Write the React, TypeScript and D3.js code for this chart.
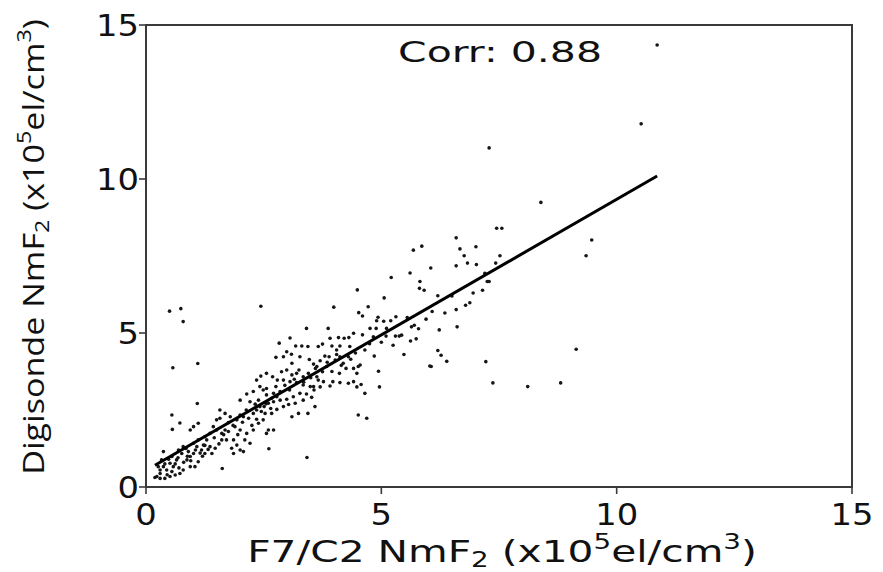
import React, { useLayoutEffect, useRef } from 'react';
import * as d3 from 'd3';

const xTicks = [0, 5, 10, 15];
const yTicks = [0, 5, 10, 15];
const corrText = 'Corr: 0.88';
const fitSlope = 0.88;
const fitIntercept = 0.54;
const fitRange = [0.19, 10.86];

const outlierPoints: [number, number][] = [
  [0.5, 5.71], [0.74, 5.79], [0.79, 5.37], [0.57, 3.87], [1.1, 4.01], [2.44, 5.87],
  [1.09, 2.71], [0.55, 2.34], [0.72, 2.08], [0.56, 1.87], [1.62, 0.6], [3.42, 0.96],
  [2.61, 1.24], [10.86, 14.35], [10.52, 11.79], [7.29, 11.01],
];

const upperPoints: [number, number][] = [
  [5.21, 6.8], [5.06, 6.14], [4.49, 6.4], [3.99, 5.84], [4.72, 5.85], [4.52, 5.66],
  [4.6, 5.55], [4.93, 5.51], [4.9, 5.4], [5.31, 5.53], [5.05, 5.38], [5.11, 5.15],
  [5.38, 4.9], [5.3, 4.9], [4.94, 3.76], [4.96, 3.25], [4.57, 3.33], [4.48, 3.25],
  [4.65, 3.04], [4.51, 2.34], [4.69, 2.23], [3.41, 5.15], [3.87, 5.15], [3.06, 4.84],
  [2.83, 4.67], [3.31, 4.58], [3.18, 4.58], [2.99, 4.39], [3.09, 4.31], [3.44, 4.56],
  [3.66, 4.56], [3.75, 4.64], [3.91, 4.83], [4.09, 4.85], [4.21, 4.83], [4.31, 4.85],
  [4.41, 4.99], [4.6, 4.94], [4.76, 5.15], [4.83, 4.88], [4.89, 5.15],
];

const rightPoints: [number, number][] = [
  [8.39, 9.24], [7.45, 8.4], [7.56, 8.4], [9.47, 8.02], [9.35, 7.51], [6.59, 8.09],
  [5.86, 7.82], [5.68, 7.69], [6.67, 7.73], [7.01, 7.8], [6.76, 7.51], [7.52, 7.51],
  [6.05, 7.11], [6.59, 7.18], [6.83, 7.27], [7.02, 7.22], [7.43, 7.27], [5.61, 6.95],
  [7.2, 6.94], [5.82, 6.67], [5.81, 6.45], [5.91, 6.39], [7.25, 6.67], [7.29, 6.67],
  [7.15, 6.39], [6.2, 6.21], [6.08, 5.7], [6.59, 5.76], [6.79, 5.9], [6.88, 5.98],
  [5.64, 5.2], [5.79, 5.14], [6.61, 5.2], [6.23, 5.1], [5.43, 4.93], [5.62, 4.74],
  [5.74, 4.81], [5.48, 4.3], [6.2, 4.43], [6.27, 4.28], [6.39, 4.08], [6.03, 3.93],
  [6.06, 3.91], [7.22, 4.07], [7.37, 3.38], [8.11, 3.26], [8.81, 3.38], [9.14, 4.47],
];

const midPoints: [number, number][] = [
  [2.76, 4.21], [2.92, 4.23], [3.1, 4.02], [3.27, 4.23], [3.47, 4.14], [3.56, 3.99],
  [3.7, 4.1], [3.8, 4.25], [3.89, 4.23], [4.02, 4.12], [4.12, 4.23], [4.3, 4.23],
  [4.25, 3.85], [4.11, 3.69], [3.97, 3.42], [3.91, 3.28], [3.77, 3.42], [3.63, 3.58],
  [3.45, 3.69], [3.34, 3.58], [3.2, 3.69], [3.1, 3.64], [2.99, 3.8], [2.88, 3.74],
  [2.79, 3.47], [2.92, 3.47], [3.06, 3.42], [3.2, 3.39], [3.34, 3.31], [3.49, 3.26],
  [3.57, 3.15], [3.41, 3.02], [3.27, 3.04], [3.13, 2.93], [2.99, 2.85], [2.85, 2.82],
  [2.71, 2.77], [2.56, 2.99], [2.49, 3.15], [2.42, 3.26], [2.35, 3.47], [2.44, 3.6],
  [2.56, 3.69], [2.69, 3.58], [2.76, 3.26], [2.6, 2.72], [2.51, 2.61], [2.67, 2.39],
  [2.78, 2.52], [2.92, 2.61], [3.03, 2.68], [3.17, 2.72], [3.34, 2.82], [3.52, 2.91],
  [3.59, 2.61], [3.44, 2.39], [3.24, 2.39], [3.1, 2.28], [3.56, 3.26], [3.66, 3.47],
  [4.12, 3.39], [4.3, 3.37], [4.41, 3.42], [4.19, 4.02], [4.41, 3.85], [4.48, 3.69],
  [4.51, 3.91], [4.55, 3.96], [4.33, 4.56], [4.05, 4.45], [3.95, 4.58], [4.12, 4.58],
  [3.84, 3.91], [3.75, 3.74], [3.63, 3.91],
];

const lowPoints: [number, number][] = [
  [2.14, 3.02], [2.0, 2.82], [2.21, 2.77], [2.32, 2.69], [2.42, 2.61], [2.28, 2.39],
  [2.13, 2.5], [2.0, 2.34], [1.93, 2.18], [1.79, 2.28], [1.68, 2.39], [1.57, 2.5],
  [1.75, 2.09], [1.89, 1.96], [2.0, 1.85], [2.14, 1.74], [2.28, 1.85], [2.39, 2.07],
  [2.49, 2.18], [2.6, 1.85], [2.71, 1.85], [2.56, 1.74], [2.21, 1.42], [2.0, 1.2],
  [1.86, 1.09], [2.07, 1.15], [1.71, 1.53], [1.61, 1.74], [1.5, 1.85], [1.43, 1.96],
  [1.36, 1.74], [1.29, 1.53], [1.22, 1.36], [1.18, 1.2], [1.08, 1.31], [1.01, 1.09],
  [0.94, 0.99], [0.87, 0.88], [0.76, 1.09], [0.65, 0.88], [0.58, 0.66], [0.51, 0.77],
  [0.44, 0.55], [0.37, 0.66], [0.3, 0.44], [0.23, 0.34], [0.26, 0.66], [0.33, 0.88],
  [0.55, 0.99], [0.69, 1.2], [0.79, 1.31], [0.9, 1.15], [1.01, 1.42], [1.11, 1.53],
  [1.25, 1.63], [1.36, 1.31], [1.47, 1.26], [1.4, 1.09], [1.25, 1.09], [1.11, 0.82],
  [1.04, 0.66], [0.94, 0.66], [0.79, 0.55], [0.72, 0.44], [0.62, 0.39], [0.51, 0.34],
  [0.4, 0.28], [0.3, 0.28], [0.19, 0.31], [0.37, 1.15], [0.94, 1.85], [1.01, 1.96],
  [1.11, 2.07], [1.5, 2.18], [1.57, 2.23], [1.68, 1.85], [1.61, 1.53], [1.86, 1.53],
  [1.82, 1.26], [1.93, 1.36], [2.1, 1.53], [2.07, 2.28], [2.18, 2.23], [2.35, 2.5],
  [2.53, 2.39], [2.67, 2.88], [2.78, 2.93], [2.39, 2.82], [2.28, 3.1], [2.56, 3.2],
  [2.71, 3.04],
];

const densePoints: [number, number][] = [
  [0.3, 0.55], [0.45, 0.4], [0.55, 0.5], [0.62, 0.75], [0.7, 0.62], [0.8, 0.8],
  [0.88, 1.0], [0.95, 0.85], [1.05, 1.2], [1.15, 1.1], [1.25, 1.35], [1.32, 1.22],
  [0.48, 0.9], [0.4, 0.75], [0.68, 0.95], [0.85, 1.25], [1.2, 1.0], [1.45, 1.6],
  [1.55, 1.4], [1.65, 1.7], [1.75, 1.8], [1.85, 2.0], [1.95, 1.7], [2.05, 2.1],
  [2.25, 2.0], [2.35, 2.2], [2.45, 2.45], [2.55, 2.7], [2.65, 2.55], [2.85, 3.1],
  [2.95, 3.3], [3.05, 3.15], [3.15, 3.5], [3.25, 3.8], [3.35, 3.4], [3.5, 3.55],
  [3.6, 3.85], [3.7, 3.25], [3.85, 4.05], [3.95, 3.75], [4.05, 4.3], [4.15, 3.95],
  [4.35, 4.15], [4.45, 4.35], [4.65, 4.45], [4.75, 4.65], [4.85, 4.25], [5.0, 4.7],
  [5.1, 4.9], [5.2, 5.4], [5.25, 4.6], [5.55, 5.5], [5.7, 5.25], [5.95, 5.45],
  [6.35, 5.65], [6.5, 6.2], [6.95, 6.3],
];

const allPoints = [
  ...outlierPoints, ...upperPoints, ...rightPoints, ...midPoints, ...lowPoints, ...densePoints,
];

const W = 883;
const H = 572;
const x = d3.scaleLinear().domain([0, 15]).range([146, 852]);
const y = d3.scaleLinear().domain([0, 15]).range([487, 25]);

const SANS = 'DejaVu Sans, sans-serif';
const OPEN = 'Open Sans, Noto Sans, sans-serif';

function FitText(props: {
  tx: number; ty: number; width: number; rotate?: number; anchor?: string;
  fontSize: number; family: string; children: React.ReactNode;
}) {
  const ref = useRef<SVGTextElement>(null);
  useLayoutEffect(() => {
    const el = ref.current;
    if (!el) return;
    el.removeAttribute('transform');
    const w = el.getBBox().width;
    if (w > 0) el.setAttribute('transform', `scale(${props.width / w},1)`);
  });
  return (
    <g transform={`translate(${props.tx},${props.ty}) rotate(${props.rotate || 0})`}>
      <text
        ref={ref}
        textAnchor={props.anchor || 'middle'}
        fontSize={props.fontSize}
        fontFamily={props.family}
        fill="#111"
      >
        {props.children}
      </text>
    </g>
  );
}

function LabelBody({ fs, prefix }: { fs: number; prefix: string }) {
  const small = fs * 0.68;
  const sub = fs * 0.18;
  const sup = fs * 0.42;
  return (
    <>
      <tspan>{prefix}</tspan>
      <tspan fontSize={small} dy={sub}>2</tspan>
      <tspan dy={-sub}>{' (x10'}</tspan>
      <tspan fontSize={small} dy={-sup}>5</tspan>
      <tspan dy={sup}>el/cm</tspan>
      <tspan fontSize={small} dy={-sup}>3</tspan>
      <tspan dy={sup}>)</tspan>
    </>
  );
}

export default function App() {
  const line = d3.line<number>().x((d) => x(d)).y((d) => y(fitIntercept + fitSlope * d));
  const axisColor = '#3a3a3a';
  return (
    <svg
      width={W}
      height={H}
      style={{ position: 'absolute', left: 0, top: 0, background: '#fff' }}
    >
      <rect x={0} y={0} width={W} height={H} fill="#fff" />
      {allPoints.map((p, i) => (
        <circle key={i} cx={x(p[0])} cy={y(p[1])} r={1.8} fill="#151515" />
      ))}
      <path d={line(fitRange) || ''} stroke="#000" strokeWidth={3} fill="none" />
      <rect
        x={x(0)}
        y={y(15)}
        width={x(15) - x(0)}
        height={y(0) - y(15)}
        fill="none"
        stroke={axisColor}
        strokeWidth={2}
      />
      {xTicks.map((t) => (
        <g key={'xt' + t}>
          <line x1={x(t)} x2={x(t)} y1={y(0)} y2={y(0) + 7} stroke={axisColor} strokeWidth={1.6} />
          <FitText tx={x(t)} ty={525} width={String(t).length * 21.5} fontSize={30} family={SANS}>
            {String(t)}
          </FitText>
        </g>
      ))}
      {yTicks.map((t) => (
        <g key={'yt' + t}>
          <line x1={x(0) - 7} x2={x(0)} y1={y(t)} y2={y(t)} stroke={axisColor} strokeWidth={1.6} />
          <FitText tx={139} ty={y(t) + 11} anchor="end" width={String(t).length * 21.5} fontSize={30} family={SANS}>
            {String(t)}
          </FitText>
        </g>
      ))}
      <FitText tx={500} ty={62} width={204} fontSize={28} family={SANS}>
        {corrText}
      </FitText>
      <FitText tx={502} ty={562} width={510} fontSize={30} family={SANS}>
        <LabelBody fs={30} prefix="F7/C2 NmF" />
      </FitText>
      <FitText tx={43.5} ty={247} width={456} rotate={-90} fontSize={30} family={OPEN}>
        <LabelBody fs={30} prefix="Digisonde NmF" />
      </FitText>
    </svg>
  );
}
